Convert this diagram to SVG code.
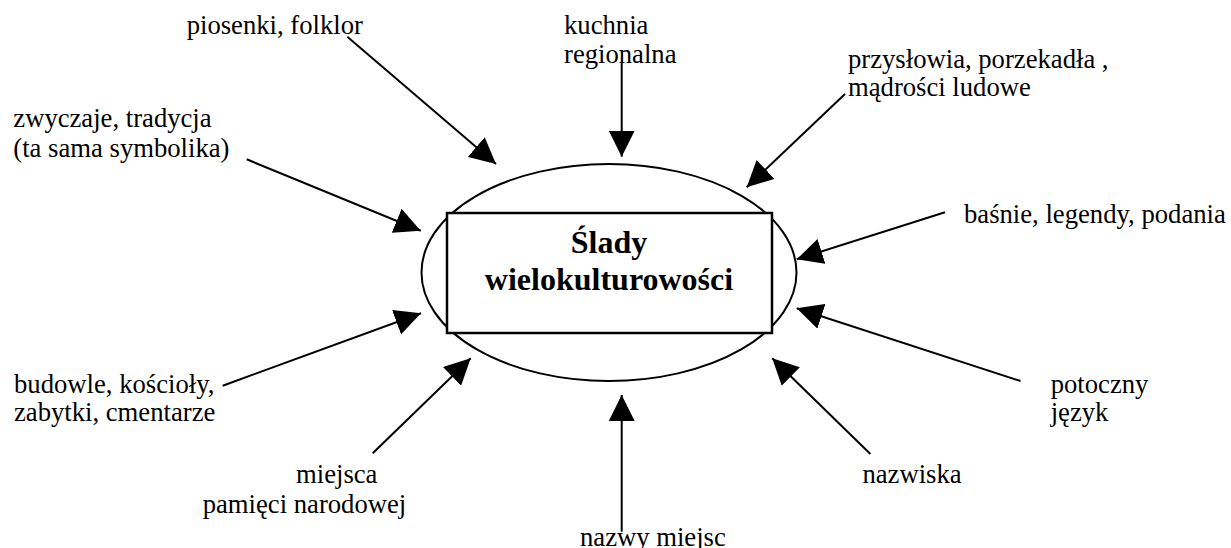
<svg xmlns="http://www.w3.org/2000/svg" width="1231" height="548" viewBox="0 0 1231 548">
<style>
text{fill:#000}
.lbl{font-size:26.67px}
.title{font-size:32px;font-weight:bold;text-anchor:middle}
.conn line{stroke:#000;stroke-width:2;marker-end:url(#ah)}
</style>
<defs>
<marker id="ah" markerUnits="userSpaceOnUse" markerWidth="26" markerHeight="26" refX="26" refY="13" orient="auto" viewBox="0 0 26 26">
<path d="M0,0 L26,13 L0,26 Z" fill="#000"/>
</marker>
</defs>
<rect width="1231" height="548" fill="#fff"/>
<g font-family="Liberation Serif, Tinos, Times New Roman, DejaVu Serif, serif">
<g id="center">
<ellipse cx="609" cy="272.5" rx="187.5" ry="108.5" fill="#fff" stroke="#000" stroke-width="2"/>
<rect x="447" y="213" width="325" height="120" fill="#fff" stroke="#000" stroke-width="2.5"/>
<text class="title" x="609" y="253">Ślady</text>
<text class="title" x="609" y="290">wielokulturowości</text>
</g>
<g id="n-piosenki"><text class="lbl" x="186.7" y="34.3">piosenki, folklor</text></g>
<g id="n-kuchnia"><text class="lbl" x="564" y="34.3">kuchnia</text><text class="lbl" x="564" y="63.3">regionalna</text></g>
<g id="n-przyslowia"><text class="lbl" x="848" y="68">przysłowia, porzekadła ,</text><text class="lbl" x="848" y="96">mądrości ludowe</text></g>
<g id="n-zwyczaje"><text class="lbl" x="13.3" y="126.7">zwyczaje, tradycja</text><text class="lbl" x="13.3" y="156.7">(ta sama symbolika)</text></g>
<g id="n-basnie"><text class="lbl" x="964" y="222.7">baśnie, legendy, podania</text></g>
<g id="n-budowle"><text class="lbl" x="14" y="393">budowle, kościoły,</text><text class="lbl" x="14" y="421">zabytki, cmentarze</text></g>
<g id="n-potoczny"><text class="lbl" x="1050.7" y="393">potoczny</text><text class="lbl" x="1050.7" y="421">język</text></g>
<g id="n-miejsca"><text class="lbl" x="296" y="483.3">miejsca</text><text class="lbl" x="202.7" y="513.3">pamięci narodowej</text></g>
<g id="n-nazwiska"><text class="lbl" x="862.4" y="482.7">nazwiska</text></g>
<g id="n-nazwy"><text class="lbl" x="580" y="545.7">nazwy miejsc</text></g>
</g>
<g id="connectors" class="conn">
<line x1="347.3" y1="36.7" x2="496" y2="164"/>
<line x1="621.7" y1="63" x2="621.7" y2="156.7"/>
<line x1="845" y1="94" x2="746.7" y2="187.3"/>
<line x1="246.7" y1="159.3" x2="420.7" y2="230.7"/>
<line x1="945" y1="212.3" x2="796.7" y2="259.3"/>
<line x1="222.7" y1="385.7" x2="421" y2="313.3"/>
<line x1="1020.5" y1="381" x2="796.7" y2="308.3"/>
<line x1="372.7" y1="453.3" x2="470.7" y2="358.3"/>
<line x1="621.7" y1="531.7" x2="621.7" y2="395"/>
<line x1="870.4" y1="454" x2="772.2" y2="358.3"/>
</g>
</svg>
